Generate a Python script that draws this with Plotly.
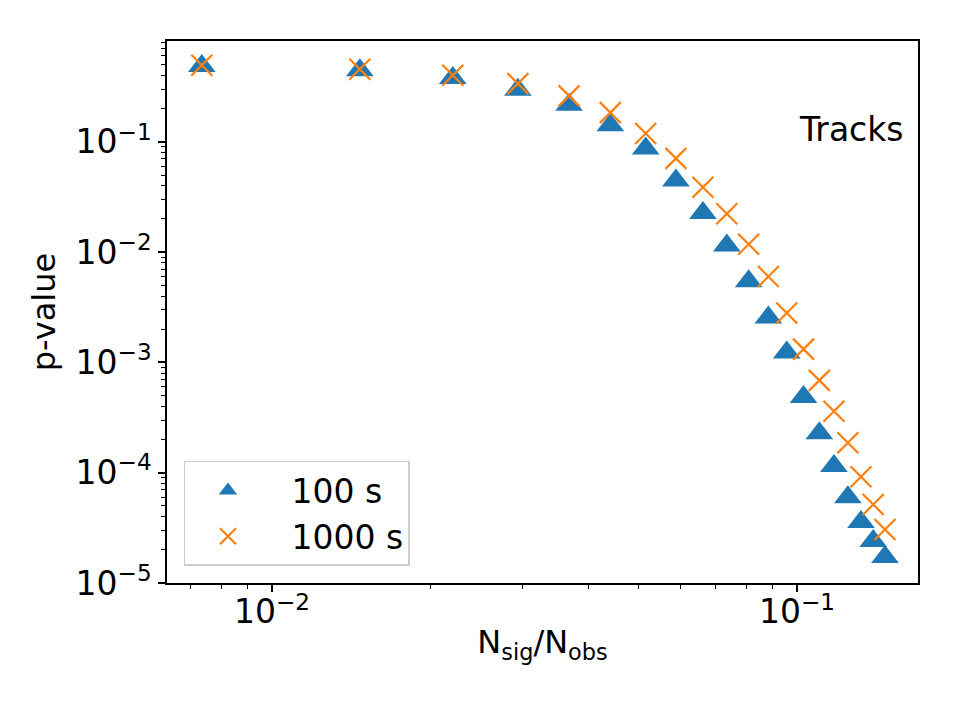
import plotly.graph_objects as go

# Data
n_ratio = [0.00735, 0.0147, 0.0221, 0.0294, 0.0368, 0.0441, 0.0515, 0.0588, 0.0662, 0.0735,
           0.0809, 0.0882, 0.0956, 0.1029, 0.1103, 0.1176, 0.1250, 0.1324, 0.1397, 0.1471]
p_100s = [0.488, 0.446, 0.379, 0.296, 0.217, 0.141, 0.0871, 0.0447, 0.0226, 0.0115,
          0.00545, 0.00255, 0.00123, 0.000486, 0.000228, 0.000115, 6.0e-5, 3.58e-5, 2.40e-5, 1.72e-5]
p_1000s = [0.494, 0.455, 0.402, 0.337, 0.261, 0.184, 0.119, 0.0708, 0.0387, 0.0223,
           0.0118, 0.00600, 0.00280, 0.00132, 0.000687, 0.000360, 0.000187, 9.18e-5, 5.15e-5, 3.06e-5]

series_names = ["100 s", "1000 s"]
x_major = [1e-2, 1e-1]
x_major_text = ["10<sup>−2</sup>", "10<sup>−1</sup>"]
y_major = [1e-5, 1e-4, 1e-3, 1e-2, 1e-1]
y_major_text = ["10<sup>−5</sup>", "10<sup>−4</sup>", "10<sup>−3</sup>", "10<sup>−2</sup>", "10<sup>−1</sup>"]

FONT = "DejaVu Sans"
PAD = "\u00a0\u00a0"

x_minor = [m * 10.0 ** e for e in (-3, -2, -1) for m in range(2, 10)]
y_minor = [m * 10.0 ** e for e in (-5, -4, -3, -2, -1) for m in range(2, 10)]

fig = go.Figure()
fig.add_trace(go.Scatter(
    x=n_ratio, y=p_100s, mode="markers", name=PAD + series_names[0],
    marker=dict(symbol="triangle-up", size=24, color="#1f77b4", line=dict(width=0)),
))
fig.add_trace(go.Scatter(
    x=n_ratio, y=p_1000s, mode="markers", name=PAD + series_names[1],
    marker=dict(symbol="x-thin", size=21, color="#ff7f0e", line=dict(width=2.2, color="#ff7f0e")),
))

axis_common = dict(
    type="log", showgrid=False, zeroline=False,
    showline=True, mirror=True, linecolor="black", linewidth=1.6,
    ticks="outside", ticklen=7, tickwidth=1.6, tickcolor="black",
    tickfont=dict(family=FONT, size=33, color="black"),
)

fig.update_xaxes(
    **axis_common,
    range=[-2.2, -0.7695],
    tickmode="array", tickvals=x_major, ticktext=x_major_text,
    ticklabelstandoff=-8,
    minor=dict(tickmode="array", tickvals=x_minor, ticks="outside", ticklen=4,
               tickwidth=1.2, tickcolor="black", showgrid=False),
    title=dict(text="N<sub>sig</sub>/N<sub>obs</sub>", font=dict(family=FONT, size=32, color="black"),
               standoff=0),
)
fig.update_yaxes(
    **axis_common,
    range=[-5.0, -0.086],
    tickmode="array", tickvals=y_major, ticktext=y_major_text,
    minor=dict(tickmode="array", tickvals=y_minor, ticks="outside", ticklen=4,
               tickwidth=1.2, tickcolor="black", showgrid=False),
    title=dict(text="p-value", font=dict(family=FONT, size=32, color="black"), standoff=10),
)

fig.add_annotation(
    text="Tracks", xref="paper", yref="paper", x=0.984, y=0.8376,
    xanchor="right", yanchor="middle", showarrow=False,
    font=dict(family=FONT, size=33, color="black"),
)

fig.update_layout(
    width=960, height=720,
    margin=dict(l=167, r=42, t=41, b=137),
    paper_bgcolor="white", plot_bgcolor="white",
    font=dict(family=FONT, color="black"),
    legend=dict(
        x=0.0226, y=0.0314, xanchor="left", yanchor="bottom",
        bordercolor="#cccccc", borderwidth=1.5, bgcolor="rgba(255,255,255,0.8)",
        font=dict(family=FONT, size=33, color="black"),
        itemwidth=75,
    ),
)

fig.write_html("out.html")
